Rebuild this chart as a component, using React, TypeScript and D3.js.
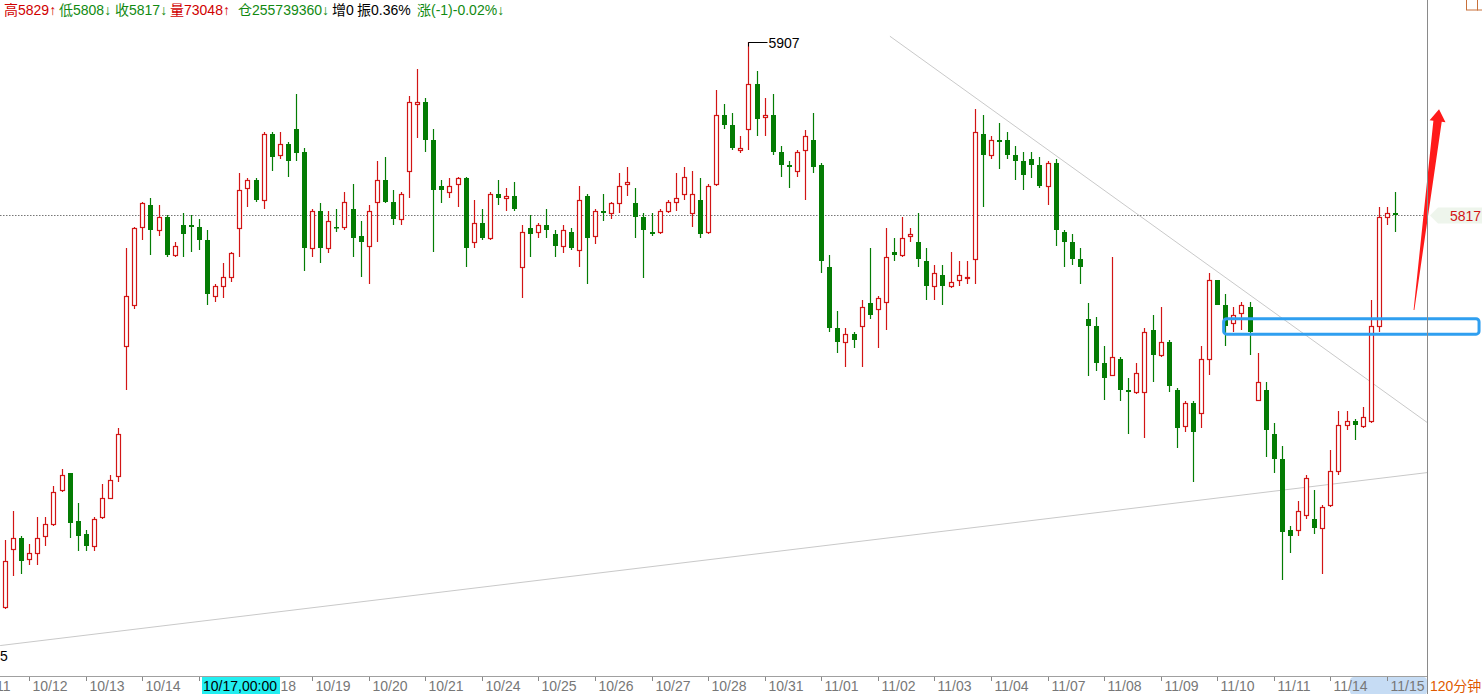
import * as d3 from 'd3';

// 120-minute bars, oldest first
const opens = [
  5613, 5643, 5649, 5638, 5641, 5650, 5656, 5674, 5683, 5658,
  5651, 5645, 5660, 5670, 5681, 5749, 5770, 5811, 5822, 5809,
  5816, 5796, 5812, 5812, 5811, 5804, 5775, 5780, 5785, 5810,
  5831, 5835, 5825, 5859, 5848, 5854, 5862, 5850, 5800, 5819,
  5800, 5811, 5811, 5820, 5806, 5801, 5824, 5835, 5824, 5815,
  5840, 5875, 5876, 5856, 5832, 5829, 5833, 5836, 5803, 5813,
  5805, 5828, 5826, 5827, 5790, 5810, 5808, 5812, 5807, 5801,
  5808, 5799, 5827, 5806, 5819, 5818, 5823, 5833, 5823, 5816,
  5808, 5808, 5819, 5824, 5828, 5818, 5825, 5808, 5833, 5869,
  5864, 5851, 5862, 5885, 5868, 5869, 5850, 5843, 5840, 5851,
  5856, 5843, 5790, 5758, 5751, 5755, 5759, 5771, 5768, 5772,
  5798, 5796, 5806, 5803, 5793, 5780, 5786, 5780, 5783, 5784,
  5794, 5859, 5848, 5856, 5856, 5848, 5845, 5846, 5843, 5832,
  5844, 5808, 5803, 5794, 5763, 5759, 5740, 5734, 5742, 5726,
  5725, 5725, 5757, 5744, 5751, 5726, 5707, 5719, 5714, 5742,
  5783, 5770, 5761, 5766, 5769, 5721, 5726, 5703, 5690, 5653,
  5653, 5661, 5659, 5654, 5666, 5684, 5708, 5710, 5707, 5710,
  5759, 5816, 5818,
];
const highs = [
  5648, 5663, 5650, 5646, 5660, 5660, 5676, 5685, 5683, 5667,
  5653, 5660, 5677, 5682, 5706, 5800, 5811, 5824, 5826, 5822,
  5817, 5803, 5818, 5817, 5815, 5809, 5781, 5792, 5798, 5839,
  5836, 5836, 5860, 5860, 5860, 5855, 5880, 5852, 5820, 5823,
  5819, 5820, 5829, 5833, 5814, 5822, 5845, 5847, 5830, 5829,
  5879, 5893, 5878, 5862, 5835, 5836, 5837, 5837, 5825, 5820,
  5829, 5835, 5831, 5834, 5812, 5817, 5813, 5820, 5809, 5812,
  5810, 5832, 5828, 5820, 5828, 5824, 5839, 5842, 5831, 5818,
  5818, 5820, 5825, 5839, 5842, 5840, 5836, 5833, 5882, 5875,
  5870, 5858, 5907, 5892, 5878, 5880, 5853, 5845, 5851, 5861,
  5870, 5844, 5796, 5767, 5758, 5756, 5773, 5800, 5775, 5810,
  5805, 5816, 5810, 5818, 5800, 5791, 5791, 5798, 5793, 5793,
  5872, 5869, 5858, 5865, 5860, 5853, 5850, 5850, 5847, 5845,
  5846, 5809, 5807, 5800, 5771, 5764, 5749, 5795, 5743, 5732,
  5740, 5758, 5765, 5769, 5752, 5727, 5720, 5720, 5749, 5787,
  5783, 5776, 5769, 5772, 5772, 5745, 5730, 5709, 5697, 5655,
  5668, 5682, 5674, 5666, 5695, 5715, 5715, 5711, 5717, 5773,
  5821, 5821, 5829,
];
const lows = [
  5612, 5629, 5630, 5635, 5635, 5645, 5655, 5673, 5649, 5642,
  5642, 5642, 5659, 5669, 5678, 5726, 5768, 5804, 5796, 5806,
  5795, 5795, 5795, 5798, 5799, 5770, 5772, 5774, 5782, 5795,
  5821, 5824, 5820, 5840, 5846, 5837, 5845, 5788, 5795, 5792,
  5797, 5808, 5809, 5795, 5785, 5781, 5803, 5823, 5812, 5812,
  5826, 5857, 5850, 5798, 5823, 5826, 5821, 5790, 5800, 5804,
  5804, 5822, 5819, 5819, 5774, 5795, 5805, 5805, 5795, 5797,
  5799, 5790, 5781, 5802, 5814, 5815, 5818, 5827, 5805, 5784,
  5806, 5807, 5818, 5819, 5825, 5811, 5805, 5807, 5832, 5862,
  5851, 5849, 5851, 5858, 5858, 5848, 5837, 5831, 5837, 5825,
  5839, 5787, 5756, 5745, 5738, 5748, 5738, 5763, 5748, 5757,
  5793, 5795, 5803, 5790, 5773, 5773, 5770, 5779, 5780, 5781,
  5781, 5821, 5846, 5841, 5846, 5835, 5830, 5836, 5831, 5822,
  5801, 5790, 5791, 5781, 5733, 5736, 5721, 5733, 5720, 5703,
  5724, 5701, 5730, 5743, 5725, 5696, 5704, 5678, 5706, 5734,
  5770, 5749, 5756, 5757, 5744, 5720, 5691, 5683, 5627, 5641,
  5650, 5659, 5651, 5630, 5665, 5682, 5705, 5700, 5706, 5709,
  5756, 5812, 5808,
];
const closes = [
  5637, 5649, 5637, 5641, 5649, 5656, 5673, 5682, 5657, 5650,
  5645, 5659, 5670, 5679, 5703, 5775, 5810, 5823, 5809, 5816,
  5796, 5801, 5807, 5811, 5804, 5776, 5780, 5785, 5797, 5830,
  5835, 5825, 5859, 5847, 5854, 5845, 5849, 5800, 5819, 5800,
  5814, 5810, 5824, 5805, 5803, 5819, 5835, 5824, 5815, 5828,
  5876, 5876, 5856, 5830, 5830, 5832, 5836, 5800, 5813, 5805,
  5828, 5826, 5827, 5820, 5808, 5807, 5812, 5809, 5801, 5809,
  5800, 5825, 5805, 5819, 5818, 5823, 5832, 5834, 5816, 5809,
  5807, 5819, 5824, 5826, 5837, 5828, 5807, 5832, 5869, 5864,
  5852, 5852, 5885, 5867, 5869, 5850, 5843, 5842, 5850, 5858,
  5842, 5793, 5758, 5751, 5755, 5752, 5769, 5765, 5774, 5795,
  5796, 5805, 5807, 5794, 5780, 5787, 5780, 5782, 5786, 5785,
  5860, 5848, 5856, 5855, 5848, 5845, 5838, 5843, 5832, 5844,
  5809, 5803, 5794, 5790, 5759, 5740, 5732, 5743, 5726, 5725,
  5735, 5756, 5744, 5751, 5728, 5706, 5719, 5704, 5742, 5783,
  5770, 5759, 5765, 5770, 5756, 5730, 5705, 5690, 5652, 5650,
  5663, 5680, 5654, 5665, 5684, 5708, 5710, 5708, 5712, 5759,
  5816, 5818, 5817,
];

const dayLabels = [
  '10/11', '10/12', '10/13', '10/14', '10/17', '10/18', '10/19', '10/20',
  '10/21', '10/24', '10/25', '10/26', '10/27', '10/28', '10/31', '11/01',
  '11/02', '11/03', '11/04', '11/07', '11/08', '11/09', '11/10', '11/11',
  '11/14', '11/15',
];
const barsPerDay = 7;
const firstDayStart = -4; // bar index where 10/11 begins (off screen)

const headerTexts = ['高5829↑', '低5808↓', '收5817↓', '量73048↑', '仓255739360↓', '增0', '振0.36%', '涨(-1)-0.02%↓'];
const headerTone = ['up', 'down', 'down', 'up', 'down', 'flat', 'flat', 'down'];
const headerX = [4, 59, 115, 170, 238, 332, 357, 417];

const lastPrice = 5817;
const cursorBar = 24;
const cursorLabel = '10/17,00:00';

// hand-drawn annotations, in bar index / price units
const trendLines = [
  { i1: 109.5, p1: 5910, i2: 176, p2: 5709 },
  { i1: -0.6, p1: 5593, i2: 176, p2: 5683 },
];
const blueBox = { i1: 150.8, i2: 182.4, pTop: 5763, pBottom: 5755 };
const arrow = { i1: 174.35, p1: 5767.6, i2: 177.45, p2: 5872 };

const W = 1482;
const H = 694;
const plotRight = 1427;
const axisY = 676;
const RED = '#d21515';
const GREEN = '#047c04';
const FONT = "'Liberation Sans', Arial, 'Noto Sans CJK SC', sans-serif";

export default function App() {
  const x = d3.scaleLinear().domain([0, opens.length - 1]).range([5, 1395]);
  const y = d3.scaleLinear().domain([5817, 5907]).range([215, 42]);

  const hiIdx = d3.maxIndex(highs);
  const hx = Math.round(x(hiIdx)) + 0.5;
  const hy = Math.round(y(highs[hiIdx])) + 0.5;

  // arrow polygon
  const tail: [number, number] = [x(arrow.i1), y(arrow.p1)];
  const tip: [number, number] = [x(arrow.i2), y(arrow.p2)];
  const dx = tip[0] - tail[0];
  const dy = tip[1] - tail[1];
  const len = Math.hypot(dx, dy);
  const ux = dx / len, uy = dy / len;
  const nx = -uy, ny = ux;
  const base: [number, number] = [tip[0] - ux * 12, tip[1] - uy * 12];
  const pt = (p: [number, number], k: number) => `${p[0] + nx * k},${p[1] + ny * k}`;
  const arrowPts = [
    pt(tail, -0.4), pt(tail, 0.4), pt(base, 4.2), pt(base, 8),
    `${tip[0]},${tip[1]}`, pt(base, -8), pt(base, -4.2),
  ].join(' ');

  const toneColor = (t: string) => (t === 'up' ? '#d00000' : t === 'down' ? '#128a12' : '#000');
  const ly = Math.round(y(lastPrice)) + 0.5;
  const cursorX = Math.round(x(cursorBar)) + 3;
  const cursorW = 78;

  return (
    <svg
      width={W}
      height={H}
      style={{ position: 'absolute', left: 0, top: 0, background: '#fff' }}
      fontFamily={FONT}
    >
      <rect x={0} y={0} width={W} height={H} fill="#fff" />

      {/* header */}
      {headerTexts.map((t, i) => (
        <text key={i} x={headerX[i]} y={15} fontSize={14} fill={toneColor(headerTone[i])}>
          {t}
        </text>
      ))}
      <rect x={1466.5} y={-1} width={11} height={11} fill="none" stroke="#c8703a" />
      <rect x={1477.5} y={-1} width={8} height={11} fill="none" stroke="#c8703a" />

      {/* trend lines */}
      {trendLines.map((l, i) => (
        <line
          key={i}
          x1={x(l.i1)}
          y1={y(l.p1)}
          x2={x(l.i2)}
          y2={y(l.p2)}
          stroke="#c9c9c9"
          strokeWidth={1}
        />
      ))}

      {/* last price line */}
      <line x1={0} x2={plotRight} y1={ly} y2={ly} stroke="#777" strokeDasharray="1.5,1.5" />

      {/* candles */}
      {opens.map((o, i) => {
        const c = closes[i];
        const up = c > o || (c === o && i > 0 && c >= closes[i - 1]);
        const px = Math.round(x(i));
        const cx = px + 0.5;
        const yTop = Math.round(y(Math.max(o, c)));
        const yBot = Math.round(y(Math.min(o, c)));
        const yH = Math.round(y(highs[i]));
        const yL = Math.round(y(lows[i]));
        if (up) {
          const h = Math.max(1, yBot - yTop);
          return (
            <g key={i} stroke={RED} strokeWidth={1.2}>
              {yH < yTop && <line x1={cx} x2={cx} y1={yH} y2={yTop} />}
              {yL > yTop + h && <line x1={cx} x2={cx} y1={yTop + h} y2={yL} />}
              <rect x={px - 1.5} y={yTop + 0.5} width={4} height={h} fill="#fff" />
            </g>
          );
        }
        return (
          <g key={i}>
            <line x1={cx} x2={cx} y1={yH} y2={yL} stroke={GREEN} strokeWidth={1.2} />
            <rect x={px - 2} y={yTop} width={5} height={Math.max(1.5, yBot - yTop)} fill={GREEN} />
          </g>
        );
      })}

      {/* high marker */}
      <polyline points={`${hx},${hy + 4} ${hx},${hy} ${hx + 19},${hy}`} fill="none" stroke="#000" strokeWidth={1} />
      <text x={hx + 20} y={hy + 5} fontSize={14} fill="#000">
        {highs[hiIdx]}
      </text>

      {/* blue box */}
      <rect
        x={x(blueBox.i1)}
        y={y(blueBox.pTop)}
        width={x(blueBox.i2) - x(blueBox.i1)}
        height={y(blueBox.pBottom) - y(blueBox.pTop)}
        rx={3}
        fill="none"
        stroke="#2f9ff0"
        strokeWidth={3}
      />

      {/* red arrow */}
      <polygon points={arrowPts} fill="#ff1a1a" />

      {/* right border */}
      <line x1={plotRight + 0.5} x2={plotRight + 0.5} y1={0} y2={H} stroke="#8a8a8a" />

      {/* last price tag */}
      <polygon
        points={`${plotRight + 3},${ly} ${plotRight + 11},${ly - 8} ${W},${ly - 8} ${W},${ly + 8} ${plotRight + 11},${ly + 8}`}
        fill="#eef5ec"
      />
      <text x={1450} y={ly + 5} fontSize={14} fill={RED}>
        {lastPrice}
      </text>

      {/* cut-off price label */}
      <text x={0} y={661} fontSize={14} fill="#000">5</text>

      {/* time axis */}
      <rect x={1350} y={axisY + 1} width={plotRight - 1350} height={H - axisY} rx={4} fill="#c6dcf4" />
      <line x1={0} x2={plotRight} y1={axisY + 0.5} y2={axisY + 0.5} stroke="#a0a0a0" />
      {dayLabels.map((d, k) => {
        const tx = Math.round(x(firstDayStart + k * barsPerDay)) + 0.5;
        const lx = tx + 3;
        // labels hidden under the cursor box: show only the part that sticks out
        if (lx >= cursorX - 1 && lx < cursorX + cursorW) {
          const tail = d.slice(3);
          const tailX = lx + 21;
          return (
            <g key={d}>
              <line x1={tx} x2={tx} y1={axisY + 1} y2={axisY + 5} stroke="#888" />
              {tailX >= cursorX + cursorW && (
                <text x={tailX} y={691} fontSize={14} fill="#777">
                  {tail}
                </text>
              )}
            </g>
          );
        }
        return (
          <g key={d}>
            <line x1={tx} x2={tx} y1={axisY + 1} y2={axisY + 5} stroke="#888" />
            <text x={lx} y={691} fontSize={14} fill="#777">
              {d}
            </text>
          </g>
        );
      })}
      <rect x={cursorX} y={axisY + 1} width={cursorW} height={H - axisY} fill="#22eef0" />
      <text x={cursorX + 1} y={691} fontSize={14} fill="#000">
        {cursorLabel}
      </text>
      <text x={plotRight + 3} y={691} fontSize={14} fill="#e05a00">
        120分钟
      </text>
    </svg>
  );
}
